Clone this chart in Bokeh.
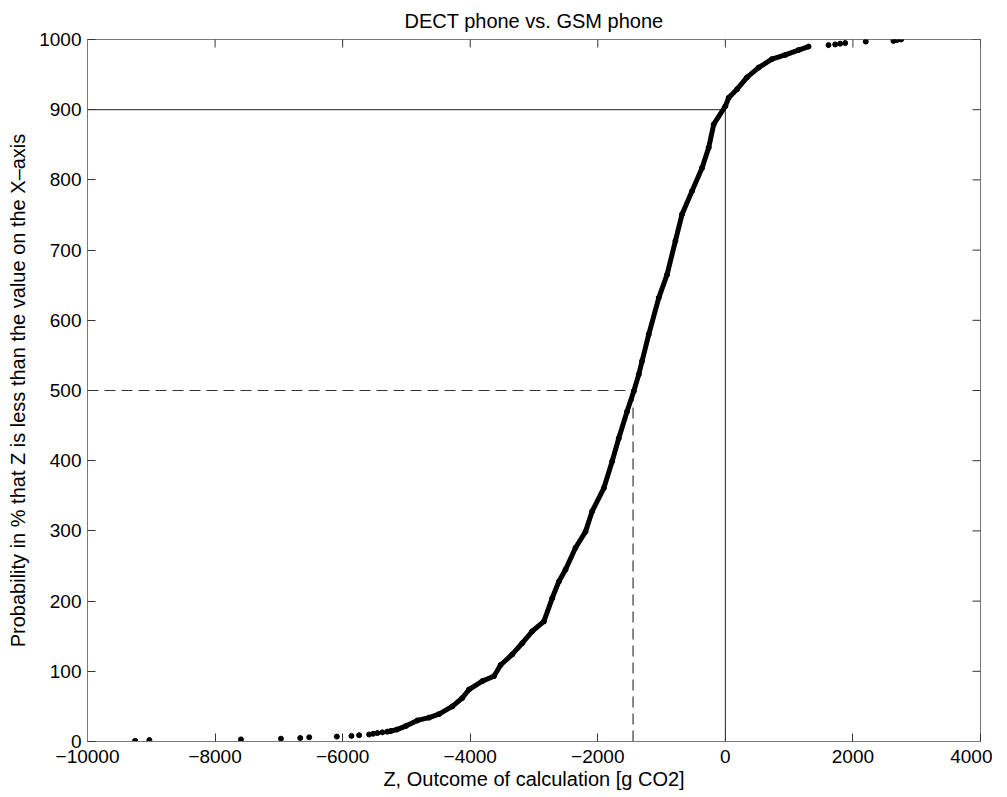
import math
from bokeh.plotting import figure
from bokeh.models import FixedTicker, Range1d
from bokeh.embed import file_html
from bokeh.resources import INLINE

title_text = "DECT phone vs. GSM phone"
x_label = "Z, Outcome of calculation [g CO2]"
y_label = "Probability in % that Z is less than the value on the X\u2013axis"

x_ticks = [-10000, -8000, -6000, -4000, -2000, 0, 2000, 4000]
x_tick_labels = ["\u221210000", "\u22128000", "\u22126000", "\u22124000", "\u22122000", "0", "2000", "4000"]
y_ticks = [0, 100, 200, 300, 400, 500, 600, 700, 800, 900, 1000]
y_tick_labels = ["0", "100", "200", "300", "400", "500", "600", "700", "800", "900", "1000"]

# sparse lower tail (individual samples)
low_z = [-9253, -9030, -7594, -6967, -6665, -6524, -6091, -5862, -5742, -5585, -5522, -5455, -5377]
low_rank = [1, 2, 3, 4, 5, 6, 7, 8, 9, 10, 11, 12, 13]

# dense middle part of the sorted samples
mid_z = [-5300, -5245, -5150, -5010, -4828, -4645, -4489, -4281, -4124, -4019, -3811, -3628,
         -3523, -3341, -3185, -3028, -2845, -2715, -2610, -2505, -2349, -2192, -2088, -1905,
         -1775, -1671, -1541, -1436, -1357, -1305, -1201, -1044, -914, -783, -679, -523,
         -366, -261, -183, 0, 52, 182, 338, 521, 730, 939, 1148, 1304]
mid_rank = [14, 15, 17, 22, 30, 34, 39, 50, 62, 74, 86, 93,
            109, 124, 140, 157, 171, 204, 228, 245, 276, 299, 328, 361,
            399, 432, 470, 499, 523, 542, 580, 632, 665, 713, 751, 784,
            817, 846, 879, 905, 917, 929, 946, 960, 972, 978, 985, 990]

# sparse upper tail
high_z = [1617, 1722, 1800, 1879, 2201, 2635, 2687, 2755]
high_rank = [992, 993, 994, 995, 997, 998, 999, 1000]

# reference lines: median and P(Z<0)
median_z = -1447
median_p = 500
zero_z = 0
zero_p = 900

x_min, x_max = -10000, 4000
y_min, y_max = 0, 1000

FONT = "Liberation Sans"
BOX = "#7a7a7a"
TICK = "#333333"

p = figure(frame_width=893, frame_height=702,
           x_range=Range1d(x_min, x_max), y_range=Range1d(y_min, y_max),
           output_backend="svg", toolbar_location=None,
           min_border_left=87, min_border_right=12, min_border_top=38, min_border_bottom=53,
           title=title_text)
p.background_fill_color = "white"
p.border_fill_color = "white"
p.outline_line_color = BOX
p.outline_line_width = 1
p.grid.visible = False

p.title.text_font = FONT
p.title.text_font_size = "20px"
p.title.text_font_style = "normal"
p.title.align = "center"
p.title.text_color = "black"
p.title.standoff = 15

xl = dict(zip(x_ticks, x_tick_labels))
yl = dict(zip(y_ticks, y_tick_labels))
p.xaxis.ticker = FixedTicker(ticks=x_ticks)
p.yaxis.ticker = FixedTicker(ticks=y_ticks)
p.xaxis.major_label_overrides = xl
p.yaxis.major_label_overrides = yl
for ax in (p.xaxis[0], p.yaxis[0]):
    ax.axis_line_color = BOX
    ax.axis_line_width = 1
    ax.major_tick_in = 8
    ax.major_tick_out = 0
    ax.major_tick_line_color = TICK
    ax.minor_tick_line_color = None
    ax.major_label_text_font = FONT
    ax.major_label_text_font_size = "19px"
    ax.major_label_text_color = "black"
    ax.axis_label_text_font = FONT
    ax.axis_label_text_font_size = "20px"
    ax.axis_label_text_font_style = "normal"
    ax.axis_label_text_color = "black"
p.xaxis.major_label_standoff = 8
p.yaxis.major_label_standoff = 6
p.xaxis.axis_label = x_label
p.yaxis.axis_label = y_label
p.xaxis.axis_label_standoff = 2
p.yaxis.axis_label_standoff = 7

# inward ticks on the top and right edges of the box (half of each dash is clipped by the frame)
p.scatter(x_ticks, [y_max] * len(x_ticks), marker="dash", size=16, angle=math.pi / 2,
          line_color=TICK, line_width=1)
p.scatter([x_max] * len(y_ticks), y_ticks, marker="dash", size=16,
          line_color=TICK, line_width=1)

# reference lines
p.line([x_min, zero_z, zero_z], [zero_p, zero_p, y_min], line_color="#222222", line_width=1)
p.line([x_min, median_z], [median_p, median_p], line_color="#333333", line_width=1, line_dash="11 6")
p.line([median_z, median_z], [median_p, y_min], line_color="#111111", line_width=1, line_dash="11 6")

# samples
p.line(mid_z, mid_rank, line_color="black", line_width=5, line_cap="round", line_join="round")
p.scatter(mid_z, mid_rank, size=5, color="black")
p.scatter(low_z, low_rank, size=5, color="black")
p.scatter(high_z, high_rank, size=5, color="black")

open("out.html", "w").write(file_html(p, INLINE))
